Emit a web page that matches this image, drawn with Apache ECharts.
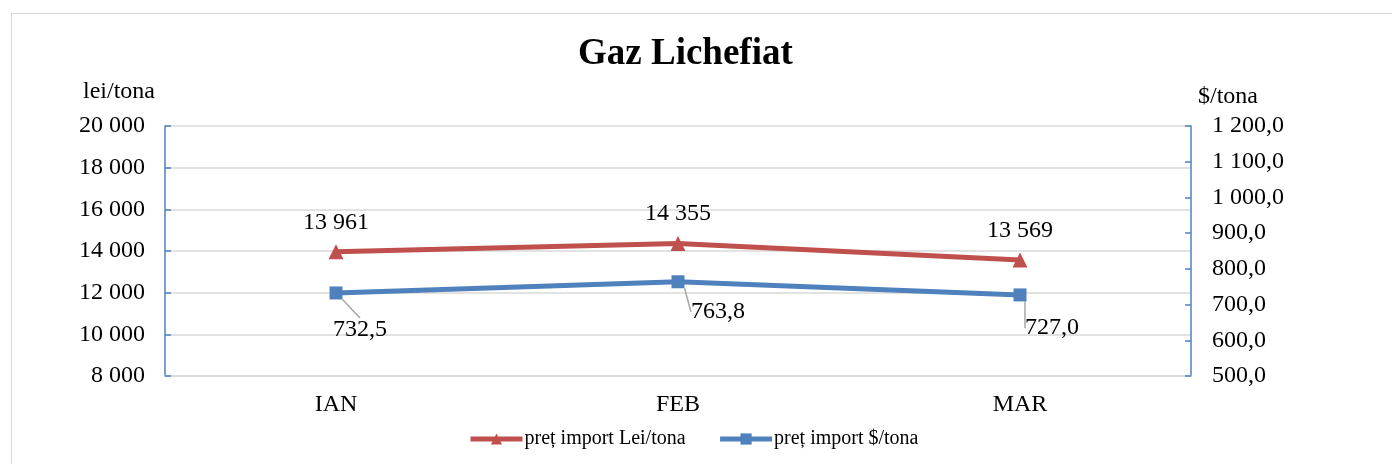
<!DOCTYPE html>
<html>
<head>
<meta charset="utf-8">
<script src="https://cdn.jsdelivr.net/npm/echarts@6/dist/echarts.min.js"></script>
<style>
html,body{margin:0;padding:0;width:1392px;height:464px;overflow:hidden;background:#fff;}
#frame{position:absolute;left:11px;top:13px;width:1400px;height:470px;border:1px solid #d9d9d9;box-sizing:border-box;}
#c{position:absolute;left:0;top:0;width:1392px;height:464px;}
</style>
</head>
<body>
<div id="frame"></div>
<div id="c"></div>
<script>
const categories = ['IAN', 'FEB', 'MAR'];
const leiValues = [13961, 14355, 13569];
const usdValues = [732.5, 763.8, 727.0];
const leiName = 'preț import Lei/tona';
const usdName = 'preț import $/tona';

const font = '"Liberation Serif", "Times New Roman", serif';
function fmtInt(v){ return String(Math.round(v)).replace(/\B(?=(\d{3})+(?!\d))/g, ' '); }
function fmtDec(v){ const p = v.toFixed(1).split('.'); return p[0].replace(/\B(?=(\d{3})+(?!\d))/g, ' ') + ',' + p[1]; }
const usdLabelShift = [[24, 37], [40, 30], [32, 33]];

const chart = echarts.init(document.getElementById('c'), null, {renderer:'canvas'});
chart.setOption({
  animation:false,
  textStyle:{fontFamily:font},
  title:{text:'Gaz Lichefiat', left:573, top:31, textStyle:{fontFamily:font, fontSize:37, fontWeight:'bold', color:'#000'}},
  legend:{
    top:424, left:463, itemWidth:52, itemHeight:14, itemGap:32,
    lineStyle:{width:5},
    textStyle:{fontFamily:font, fontSize:20, color:'#000', padding:[0,0,0,-3]},
    data:[leiName, usdName]
  },
  grid:{left:165, right:201, top:126, height:250, containLabel:false},
  xAxis:{
    type:'category', data:categories, boundaryGap:true,
    axisLine:{lineStyle:{color:'#d9d9d9', width:1.5}},
    axisTick:{show:false},
    axisLabel:{fontFamily:font, fontSize:24, color:'#000', margin:17}
  },
  yAxis:[
    {type:'value', min:8000, max:20000, interval:2000, position:'left',
     name:'lei/tona', nameLocation:'end', nameGap:22,
     nameTextStyle:{fontFamily:font, fontSize:24, color:'#000', align:'right', padding:[0,10,0,0]},
     axisLine:{show:true, lineStyle:{color:'#4f81bd', width:1.5}},
     axisTick:{show:true, inside:true, length:6, lineStyle:{color:'#4f81bd', width:1.5}},
     splitLine:{show:true, lineStyle:{color:'#d9d9d9', width:1.5}},
     axisLabel:{fontFamily:font, fontSize:24, color:'#000', margin:20, formatter:fmtInt}},
    {type:'value', min:500, max:1200, interval:100, position:'right',
     name:'$/tona', nameLocation:'end', nameGap:17,
     nameTextStyle:{fontFamily:font, fontSize:24, color:'#000', align:'left', padding:[0,0,0,7]},
     axisLine:{show:true, lineStyle:{color:'#4f81bd', width:1.5}},
     axisTick:{show:true, inside:true, length:6, lineStyle:{color:'#4f81bd', width:1.5}},
     splitLine:{show:false},
     axisLabel:{fontFamily:font, fontSize:24, color:'#000', margin:21, formatter:fmtDec}}
  ],
  series:[
    {name:leiName, type:'line', yAxisIndex:0, data:leiValues,
     symbol:'triangle', symbolSize:15,
     lineStyle:{color:'#c0504d', width:5}, itemStyle:{color:'#c0504d'},
     label:{show:true, position:'top', distance:10, fontFamily:font, fontSize:24, color:'#000', formatter:p=>fmtInt(p.value)}},
    {name:usdName, type:'line', yAxisIndex:1, data:usdValues,
     symbol:'rect', symbolSize:13,
     lineStyle:{color:'#4f81bd', width:5}, itemStyle:{color:'#4f81bd'},
     label:{show:true, position:'inside', fontFamily:font, fontSize:24, color:'#000', formatter:p=>fmtDec(p.value)},
     labelLayout:function(p){ const s = usdLabelShift[p.dataIndex]; return {dx:s[0], dy:s[1]}; },
     labelLine:{show:true, lineStyle:{color:'#a6a6a6', width:1.5}}}
  ]
});
</script>
</body>
</html>
